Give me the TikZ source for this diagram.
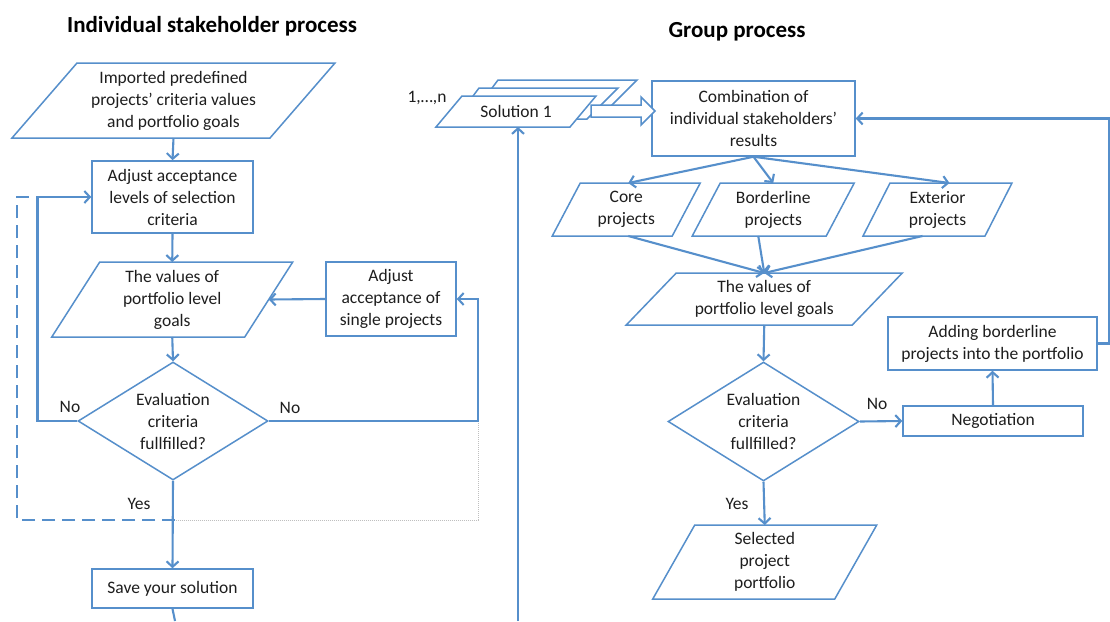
\documentclass[tikz,border=0pt]{standalone}
\usepackage{fontspec}
\setmainfont{Carlito}
\usetikzlibrary{arrows.meta,shapes.geometric}
\definecolor{ln}{RGB}{86,143,203}
\definecolor{tx}{RGB}{30,30,30}
\newcommand{\myfs}{\fontsize{17.5}{22}\selectfont}
\newcommand{\myttl}{\fontsize{23}{26}\selectfont\bfseries}
\tikzset{
  shp/.style={draw=ln, line width=1.5pt, fill=white},
  txt/.style={text=tx, align=center, font=\myfs, inner sep=0pt},
  box/.style={shp, txt},
  dmd/.style={shp, txt, diamond, aspect=1.6},
  lbl/.style={text=tx, font=\myfs, inner sep=0pt},
  con/.style={draw=ln, line width=2.1pt, -{Straight Barb[length=5.5pt,width=12pt]}},
  pln/.style={draw=ln, line width=2.1pt},
  dsh/.style={draw=ln, line width=2.1pt, dash pattern=on 13pt off 7pt},
  dotg/.style={draw=black!25, line width=0.6pt, dash pattern=on 1pt off 1pt},
}
% parallelogram: name, cx, cy, half width, half height, half slant, text
\newcommand{\pgram}[7]{%
  \draw[shp] ({#2+#6-#4},{#3-#5}) -- ({#2+#6+#4},{#3-#5}) -- ({#2-#6+#4},{#3+#5}) -- ({#2-#6-#4},{#3+#5}) -- cycle;
  \node[txt] (#1) at (#2,#3) {#7};
  \coordinate (#1-n) at (#2,{#3-#5});
  \coordinate (#1-s) at (#2,{#3+#5});
  \coordinate (#1-e) at ({#2+#4},#3);
  \coordinate (#1-w) at ({#2-#4},#3);
}
\begin{document}
\begin{tikzpicture}[x=1pt,y=-1pt]
\useasboundingbox (0,0) rectangle (1110,621);
\fill[white] (0,0) rectangle (1110,621);
\clip (0,0) rectangle (1110,621);

% ---------- titles
\node[text=black, font=\myttl, inner sep=0pt] (t1) at (212,26) {Individual stakeholder process};
\node[text=black, font=\myttl, inner sep=0pt] (t2) at (737,32) {Group process};

% ---------- left column
\pgram{p1}{173.5}{100.5}{129}{37.5}{32.5}{Imported predefined\\projects’ criteria values\\and portfolio goals}
\node[box, minimum width=161pt, minimum height=72pt] (b1) at (172.5,197) {Adjust acceptance\\levels of selection\\criteria};
\pgram{p2}{172.25}{299.5}{96.5}{37.5}{24}{The values of\\portfolio level\\goals}
\node[box, minimum width=130pt, minimum height=74pt] (b2) at (391,299) {Adjust\\acceptance of\\single projects};
\node[dmd, minimum width=190pt, minimum height=118pt] (d1) at (173,421) {Evaluation\\criteria\\fullfilled?};
\node[box, minimum width=161pt, minimum height=39pt] (save) at (172.5,588.5) {Save your solution};

\node[lbl] (no1) at (70,407) {No};
\node[lbl] (no2) at (290,408) {No};
\node[lbl] (yes1) at (139,504) {Yes};

\coordinate (lbot) at (175,621);
\coordinate (rcorner) at (478,421);
\coordinate (jn) at (175,520);

\draw[dotg] (rcorner) -- (478,520) -- (jn);
\draw[dsh] (jn) -- (17,520) -- (17,197) -- (37,197);

\draw[con] (p1-s) -- (b1.north);
\draw[con] (b1.south) -- (p2-n);
\draw[con] (p2-s) -- (d1.north);
\draw[con] (d1.south) -- (save.north);
\draw[pln] (save.south) -- (lbot);
\draw[con] (d1.west) -- (37.5,421) |- (b1.west);
\draw[con] (d1.east) -- (rcorner) |- (b2.east);
\draw[con] (b2.west) -- (p2-e);

% ---------- solution stack
\node[lbl] (n1) at (427,98) {1,…,n};
\draw[shp] (498,80) -- (637,80) -- (606,111) -- (475,111) -- cycle;
\draw[shp] (479,88) -- (618,88) -- (587,119) -- (456,119) -- cycle;
\node[box, minimum width=203pt, minimum height=75pt] (comb) at (753.5,118.5) {Combination of\\individual stakeholders’\\results};
\draw[shp] (591,105) -- (641,105) -- (641,97) -- (655,111) -- (641,125) -- (641,117) -- (591,117) -- cycle;
\pgram{sol}{516}{111.5}{67}{15.5}{13}{Solution 1}
\coordinate (sbot) at (518,621);
\draw[con] (sbot) -- (sbot |- sol-s);

% ---------- right column
\pgram{core}{626.25}{209.5}{60}{26.5}{14}{Core\\projects}
\pgram{bord}{773.25}{209.5}{67}{26.5}{14}{Borderline\\projects}
\pgram{ext}{937.5}{209.5}{61}{26.5}{13.5}{Exterior\\projects}
\pgram{val}{764.25}{299}{113}{26}{25}{The values of\\portfolio level goals}
\node[dmd, minimum width=191pt, minimum height=119pt] (d2) at (763.5,421.5) {Evaluation\\criteria\\fullfilled?};
\node[box, minimum width=209pt, minimum height=53pt] (add) at (992.5,343.5) {Adding borderline\\projects into the portfolio};
\node[box, minimum width=180pt, minimum height=30pt] (neg) at (993,421) {Negotiation};
\pgram{sel}{764.75}{562}{91}{37}{21}{Selected\\project\\portfolio}

\node[lbl] (no3) at (877,404) {No};
\node[lbl] (yes2) at (737,504) {Yes};

\draw[con] (comb.south) -- ([xshift=2pt]core-n);
\draw[con] (comb.south) -- (bord-n);
\draw[con] (comb.south) -- ([xshift=12pt]ext-n);
\draw[con] ([xshift=2pt]core-s) -- (val-n);
\draw[con] ([xshift=-15pt]bord-s) -- (val-n);
\draw[con] ([xshift=-15pt]ext-s) -- (val-n);
\draw[con] (val-s) -- (d2.north);
\draw[con] (d2.east) -- (neg.west);
\draw[con] (neg.north) -- (add.south);
\draw[con] (d2.south) -- (sel-n);
\draw[con] (add.east) -- (1109.5,343.5) |- (comb.east);
\end{tikzpicture}
\end{document}
